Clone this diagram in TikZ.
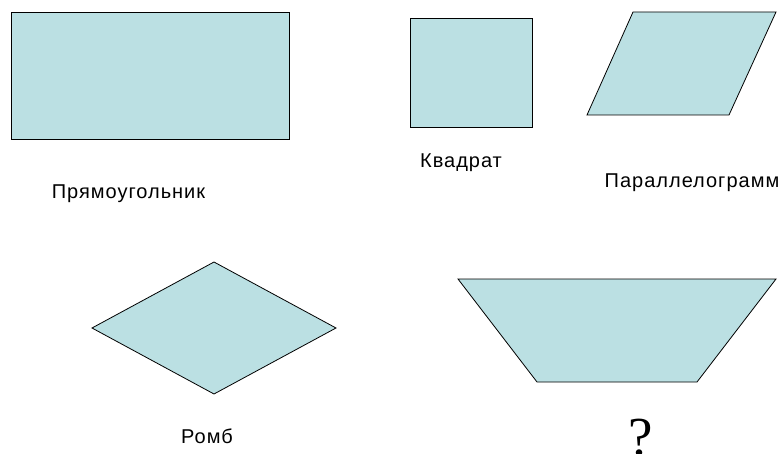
\documentclass[tikz,border=0pt]{standalone}
\usepackage{fontspec}
\setmainfont{Liberation Sans}[LetterSpace=5]
\newfontfamily\qfont{Liberation Serif}
\definecolor{shapefill}{HTML}{BBE0E3}
\begin{document}
\begin{tikzpicture}[x=1pt,y=-1pt,
  shp/.style={draw=black,fill=shapefill,line width=0.8pt,line join=miter},
  lbl/.style={font=\fontsize{20}{23}\selectfont,inner sep=0pt,anchor=base}]
\useasboundingbox (0,0) rectangle (781,454);
\draw[shp] (11,12) rectangle (289,139);
\draw[shp] (410,18) rectangle (532,127);
\draw[shp] (633,12) -- (776,12) -- (729,115) -- (587,115) -- cycle;
\draw[shp] (214,262) -- (336,328) -- (214,394) -- (92,328) -- cycle;
\draw[shp] (458,279) -- (776,279) -- (697,382) -- (537,382) -- cycle;
\node[lbl] (l1) at (128.5,199) {Прямоугольник};
\node[lbl] (l2) at (461,168) {Квадрат};
\node[lbl] (l3) at (692,188) {Параллелограмм};
\node[lbl] (l4) at (207,443) {Ромб};
\node[inner sep=0pt,anchor=base] (q) at (641,455) {\qfont\fontsize{55}{60}\selectfont ?};
\end{tikzpicture}
\end{document}
